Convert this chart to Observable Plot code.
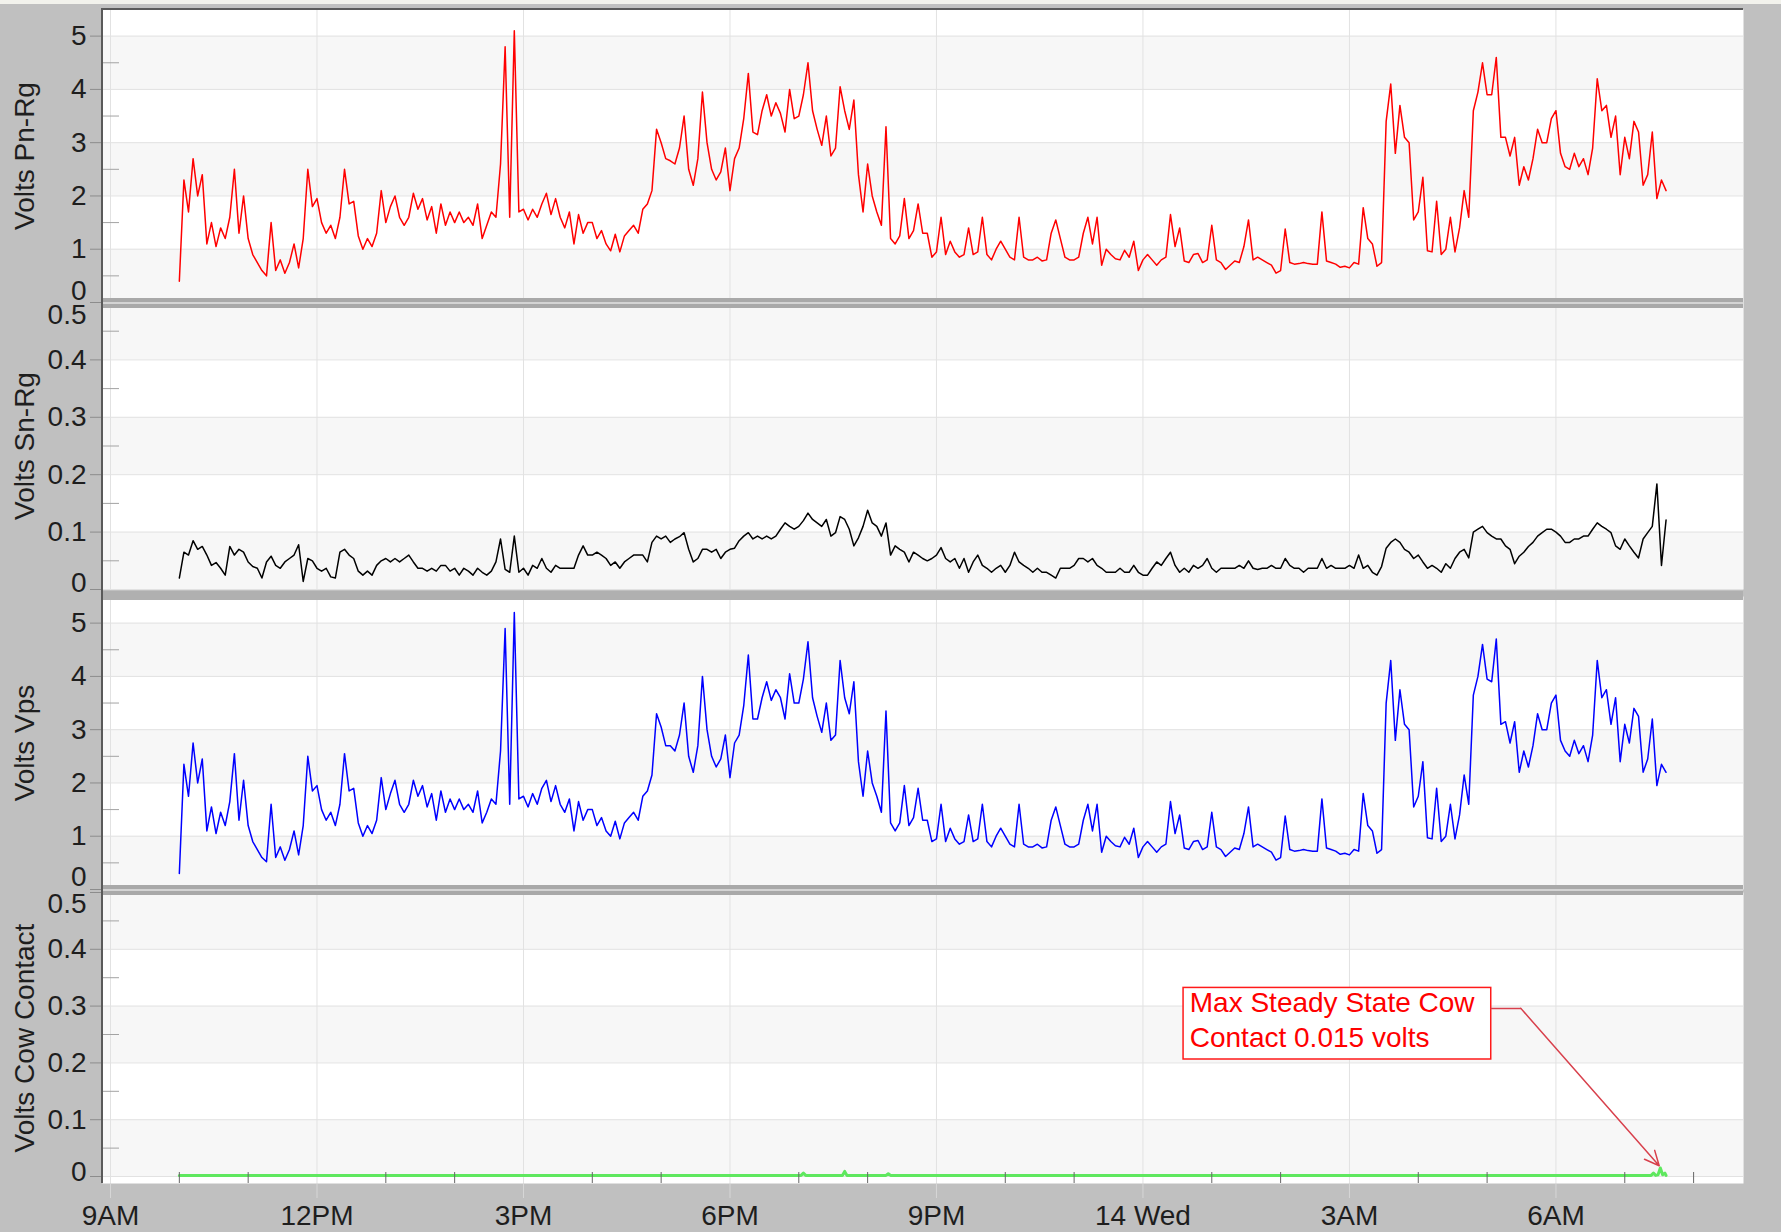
<!DOCTYPE html>
<html><head><meta charset="utf-8">
<script src="https://cdn.jsdelivr.net/npm/d3@7"></script>
<script src="https://cdn.jsdelivr.net/npm/@observablehq/plot@0.6"></script>
<style>
html,body{margin:0;padding:0;background:#c0c0c0;}
#chart{position:relative;width:1781px;height:1232px;background:#c0c0c0;overflow:hidden;}
#chart svg{position:absolute;left:0;overflow:visible;}
.deco{position:absolute;}
</style></head><body><div id="chart"></div>
<script>
// ---------------- DATA ----------------
// time axis: hours after 9 AM (Tue); samples every 4 minutes starting 10:00 AM
const startHour = 1;
const stepMinutes = 4;
const xTickHours = [0, 3, 6, 9, 12, 15, 18, 21];
const xTickLabels = ["9AM", "12PM", "3PM", "6PM", "9PM", "14 Wed", "3AM", "6AM"];
const xMinorHours = [1, 2, 4, 5, 7, 8, 10, 11, 13, 14, 16, 17, 19, 20, 22, 23];

// Volts Pn-Rg (red)
const pnRg = [
  0.4, 2.3, 1.7, 2.7, 2.0, 2.4, 1.1, 1.5, 1.05, 1.4, 1.2, 1.6, 2.5, 1.3, 2.0,
  1.2, 0.9, 0.75, 0.6, 0.5, 1.5, 0.6, 0.8, 0.55, 0.75, 1.1, 0.65, 1.2, 2.5, 1.8,
  1.95, 1.5, 1.3, 1.45, 1.2, 1.6, 2.5, 1.85, 1.9, 1.25, 1.0, 1.2, 1.05, 1.3, 2.1,
  1.5, 1.8, 2.0, 1.6, 1.45, 1.6, 2.05, 1.75, 1.95, 1.55, 1.8, 1.3, 1.85, 1.45, 1.7,
  1.5, 1.7, 1.5, 1.6, 1.45, 1.85, 1.2, 1.45, 1.7, 1.6, 2.6, 4.8, 1.6, 5.1, 1.7,
  1.75, 1.55, 1.75, 1.6, 1.85, 2.05, 1.65, 1.95, 1.6, 1.4, 1.7, 1.1, 1.65, 1.3, 1.5,
  1.5, 1.2, 1.35, 1.1, 0.97, 1.28, 0.95, 1.25, 1.35, 1.45, 1.3, 1.75, 1.85, 2.1, 3.25,
  3.0, 2.7, 2.66, 2.6, 2.9, 3.5, 2.5, 2.2, 2.7, 3.95, 3.0, 2.5, 2.3, 2.45, 2.9,
  2.1, 2.7, 2.9, 3.45, 4.3, 3.2, 3.15, 3.6, 3.9, 3.5, 3.75, 3.55, 3.2, 4.0, 3.45,
  3.5, 3.9, 4.5, 3.6, 3.25, 2.95, 3.5, 2.75, 2.9, 4.05, 3.6, 3.25, 3.8, 2.4, 1.7,
  2.6, 2.0, 1.7, 1.45, 3.3, 1.2, 1.1, 1.25, 1.95, 1.2, 1.35, 1.85, 1.3, 1.3, 0.85,
  0.95, 1.6, 0.9, 1.15, 0.95, 0.85, 0.9, 1.4, 0.9, 0.95, 1.6, 0.9, 0.8, 1.0, 1.15,
  1.0, 0.85, 0.8, 1.6, 0.85, 0.8, 0.8, 0.85, 0.78, 0.8, 1.3, 1.55, 1.2, 0.85, 0.8,
  0.8, 0.85, 1.3, 1.6, 1.1, 1.6, 0.7, 1.0, 0.9, 0.82, 0.8, 0.98, 0.85, 1.15, 0.6,
  0.8, 0.9, 0.8, 0.7, 0.8, 0.85, 1.65, 1.05, 1.4, 0.78, 0.75, 0.9, 0.92, 0.75, 0.8,
  1.45, 0.8, 0.75, 0.62, 0.7, 0.78, 0.75, 1.05, 1.55, 0.8, 0.85, 0.8, 0.75, 0.7, 0.55,
  0.6, 1.38, 0.75, 0.72, 0.73, 0.75, 0.73, 0.72, 0.72, 1.7, 0.78, 0.75, 0.72, 0.66, 0.68,
  0.65, 0.75, 0.72, 1.78, 1.2, 1.1, 0.68, 0.75, 3.4, 4.1, 2.8, 3.7, 3.1, 3.0, 1.55,
  1.7, 2.35, 0.97, 0.95, 1.9, 0.9, 1.0, 1.6, 0.95, 1.4, 2.1, 1.6, 3.6, 3.95, 4.5,
  3.9, 3.9, 4.6, 3.1, 3.1, 2.75, 3.1, 2.2, 2.55, 2.3, 2.7, 3.25, 3.0, 3.0, 3.45,
  3.6, 2.8, 2.55, 2.5, 2.8, 2.55, 2.7, 2.4, 2.9, 4.2, 3.6, 3.7, 3.1, 3.5, 2.4,
  3.1, 2.7, 3.4, 3.2, 2.2, 2.4, 3.2, 1.95, 2.3, 2.1
];

// Volts Sn-Rg (black)
const snRg = [
  0.02, 0.065, 0.06, 0.085, 0.07, 0.075, 0.06, 0.042, 0.047, 0.037, 0.025, 0.075, 0.06, 0.07, 0.065,
  0.048, 0.04, 0.037, 0.02, 0.048, 0.058, 0.042, 0.037, 0.048, 0.054, 0.06, 0.078, 0.014, 0.054, 0.05,
  0.037, 0.032, 0.037, 0.022, 0.02, 0.065, 0.07, 0.06, 0.054, 0.032, 0.025, 0.032, 0.025, 0.042, 0.05,
  0.054, 0.048, 0.054, 0.048, 0.054, 0.06, 0.048, 0.037, 0.037, 0.032, 0.037, 0.032, 0.042, 0.042, 0.032,
  0.037, 0.025, 0.037, 0.032, 0.025, 0.037, 0.03, 0.025, 0.032, 0.048, 0.088, 0.035, 0.03, 0.093, 0.03,
  0.037, 0.025, 0.042, 0.037, 0.054, 0.037, 0.03, 0.042, 0.037, 0.037, 0.037, 0.037, 0.06, 0.076, 0.06,
  0.06, 0.065, 0.06, 0.054, 0.042, 0.048, 0.037, 0.048, 0.054, 0.06, 0.06, 0.06, 0.048, 0.082, 0.093,
  0.088, 0.093, 0.082, 0.088, 0.092, 0.099, 0.07, 0.048, 0.054, 0.07, 0.07, 0.065, 0.07, 0.054, 0.065,
  0.07, 0.072, 0.085, 0.093, 0.099, 0.088, 0.093, 0.088, 0.093, 0.088, 0.093, 0.105, 0.116, 0.11, 0.105,
  0.11, 0.12, 0.133, 0.122, 0.116, 0.11, 0.122, 0.093, 0.099, 0.127, 0.122, 0.105, 0.076, 0.09, 0.11,
  0.138, 0.116, 0.11, 0.093, 0.116, 0.06, 0.076, 0.07, 0.065, 0.048, 0.065, 0.06, 0.054, 0.05, 0.054,
  0.06, 0.073, 0.054, 0.048, 0.054, 0.037, 0.054, 0.03, 0.048, 0.06, 0.042, 0.037, 0.03, 0.037, 0.042,
  0.03, 0.042, 0.065, 0.048, 0.042, 0.037, 0.03, 0.037, 0.03, 0.03, 0.025, 0.02, 0.037, 0.037, 0.037,
  0.042, 0.054, 0.054, 0.048, 0.054, 0.042, 0.037, 0.03, 0.03, 0.03, 0.037, 0.03, 0.03, 0.042, 0.03,
  0.025, 0.025, 0.037, 0.048, 0.042, 0.054, 0.065, 0.042, 0.03, 0.037, 0.03, 0.042, 0.037, 0.042, 0.054,
  0.037, 0.03, 0.037, 0.037, 0.037, 0.037, 0.042, 0.037, 0.05, 0.037, 0.035, 0.037, 0.037, 0.042, 0.037,
  0.037, 0.054, 0.042, 0.037, 0.037, 0.03, 0.037, 0.037, 0.037, 0.054, 0.037, 0.042, 0.037, 0.037, 0.037,
  0.042, 0.037, 0.06, 0.037, 0.042, 0.03, 0.025, 0.04, 0.072, 0.082, 0.088, 0.082, 0.07, 0.065, 0.054,
  0.06, 0.048, 0.037, 0.042, 0.037, 0.03, 0.045, 0.037, 0.054, 0.065, 0.07, 0.055, 0.1, 0.105, 0.11,
  0.099, 0.093, 0.088, 0.088, 0.076, 0.07, 0.045, 0.058, 0.065, 0.075, 0.082, 0.093, 0.099, 0.105, 0.105,
  0.1, 0.093, 0.082, 0.082, 0.088, 0.088, 0.093, 0.093, 0.105, 0.116, 0.11, 0.105, 0.099, 0.076, 0.07,
  0.088, 0.076, 0.065, 0.055, 0.088, 0.099, 0.11, 0.184, 0.042, 0.121
];

// Volts Vps (blue)
const vps = [
  0.3, 2.35, 1.75, 2.75, 2.0, 2.45, 1.1, 1.55, 1.05, 1.45, 1.2, 1.65, 2.55, 1.3, 2.05,
  1.2, 0.9, 0.75, 0.6, 0.52, 1.6, 0.6, 0.8, 0.55, 0.75, 1.1, 0.65, 1.2, 2.5, 1.85,
  1.95, 1.5, 1.3, 1.45, 1.2, 1.6, 2.55, 1.85, 1.9, 1.25, 1.0, 1.2, 1.05, 1.3, 2.1,
  1.5, 1.8, 2.05, 1.6, 1.45, 1.6, 2.05, 1.75, 1.95, 1.55, 1.8, 1.3, 1.85, 1.45, 1.7,
  1.5, 1.7, 1.5, 1.6, 1.45, 1.85, 1.25, 1.45, 1.7, 1.6, 2.6, 4.9, 1.6, 5.2, 1.7,
  1.75, 1.55, 1.8, 1.6, 1.9, 2.05, 1.65, 1.95, 1.6, 1.45, 1.7, 1.1, 1.65, 1.3, 1.5,
  1.5, 1.2, 1.35, 1.1, 1.0, 1.28, 0.95, 1.25, 1.35, 1.45, 1.3, 1.75, 1.85, 2.15, 3.3,
  3.05, 2.7, 2.7, 2.6, 2.9, 3.5, 2.5, 2.2, 2.7, 4.0, 3.0, 2.5, 2.3, 2.45, 2.9,
  2.1, 2.75, 2.9, 3.45, 4.4, 3.2, 3.2, 3.6, 3.9, 3.55, 3.75, 3.6, 3.2, 4.05, 3.5,
  3.5, 3.95, 4.65, 3.6, 3.25, 2.95, 3.5, 2.8, 2.9, 4.3, 3.6, 3.3, 3.9, 2.4, 1.75,
  2.6, 2.0, 1.75, 1.45, 3.35, 1.25, 1.1, 1.25, 1.95, 1.2, 1.35, 1.9, 1.3, 1.3, 0.9,
  0.95, 1.6, 0.9, 1.15, 0.95, 0.85, 0.9, 1.4, 0.9, 0.95, 1.6, 0.9, 0.8, 1.0, 1.15,
  1.0, 0.85, 0.8, 1.6, 0.85, 0.8, 0.8, 0.85, 0.78, 0.8, 1.3, 1.55, 1.2, 0.85, 0.8,
  0.8, 0.85, 1.3, 1.6, 1.1, 1.6, 0.7, 1.0, 0.9, 0.82, 0.8, 0.98, 0.85, 1.15, 0.6,
  0.8, 0.9, 0.8, 0.7, 0.8, 0.85, 1.65, 1.05, 1.4, 0.78, 0.75, 0.9, 0.92, 0.75, 0.8,
  1.45, 0.8, 0.75, 0.62, 0.7, 0.78, 0.75, 1.05, 1.55, 0.8, 0.85, 0.8, 0.75, 0.7, 0.55,
  0.6, 1.38, 0.75, 0.72, 0.73, 0.75, 0.73, 0.72, 0.72, 1.7, 0.78, 0.75, 0.72, 0.66, 0.68,
  0.65, 0.75, 0.72, 1.8, 1.2, 1.1, 0.68, 0.75, 3.5, 4.3, 2.8, 3.75, 3.1, 3.0, 1.55,
  1.75, 2.4, 0.97, 0.95, 1.9, 0.9, 1.0, 1.6, 0.95, 1.4, 2.15, 1.6, 3.65, 4.0, 4.6,
  3.95, 3.9, 4.7, 3.1, 3.15, 2.75, 3.15, 2.2, 2.6, 2.3, 2.7, 3.3, 3.0, 3.0, 3.5,
  3.65, 2.8, 2.6, 2.5, 2.8, 2.55, 2.7, 2.4, 2.9, 4.3, 3.6, 3.75, 3.1, 3.6, 2.4,
  3.1, 2.75, 3.4, 3.25, 2.2, 2.45, 3.2, 1.95, 2.35, 2.2
];

// Volts Cow Contact (green): minutes after 9 AM and values
const cowMinutes = [60, 602, 604, 606, 638, 640, 642, 676, 678, 680, 1343, 1345, 1347, 1349, 1351, 1353, 1355, 1356];
const cowVolts   = [0.002, 0.002, 0.006, 0.002, 0.002, 0.009, 0.002, 0.002, 0.005, 0.002, 0.002, 0.006, 0.002, 0.003, 0.015, 0.003, 0.006, 0.002];

const annotationLines = ["Max Steady State Cow", "Contact 0.015 volts"];

// ---------------- RENDER ----------------
const W = 1781, ML = 102, MR = 38;
const xDomain = [-0.1162, 23.725];
const FONT = '"Liberation Sans", Arial, Helvetica, sans-serif';
const TXT = "#1e1e1e";
const FS = 28;
const tx = (d, i) => startHour + i * stepMinutes / 60;

function panel(cfg) {
  const marks = [
    Plot.frame({fill: "white", stroke: "none"}),
    Plot.rect(cfg.bands, {y1: d => d[0], y2: d => d[1], fill: "#f7f7f7"}),
    Plot.gridY(cfg.major, {stroke: "#e2e2e2", strokeOpacity: 1}),
    Plot.gridX(xTickHours, {stroke: "#e2e2e2", strokeOpacity: 1}),
    Plot.axisY(cfg.minor, {tickSize: 16, dx: 17, stroke: "#a3a3a3", tickFormat: () => "", label: null}),
    Plot.axisY(cfg.major, {tickSize: 12, stroke: "#8c8c8c", tickFormat: () => "", label: null}),
    Plot.axisY(cfg.major.filter(v => !(v in cfg.edge)), {tickSize: 0, tickPadding: 16, fill: TXT, fontSize: FS, fontFamily: FONT, tickFormat: cfg.fmt, label: null}),
    ...Object.entries(cfg.edge).map(([v, dy]) =>
      Plot.axisY([+v], {tickSize: 0, tickPadding: 16, dy, fill: TXT, fontSize: FS, fontFamily: FONT, tickFormat: cfg.fmt, label: null})),
    Plot.text([cfg.label], {frameAnchor: "left", dx: -77, rotate: -90, textAnchor: "middle", lineAnchor: "middle",
      fontSize: FS, fontFamily: FONT, fill: TXT, text: d => d}),
    ...cfg.series
  ];
  const svg = Plot.plot({
    width: W, height: cfg.height,
    marginLeft: ML, marginRight: MR, marginTop: cfg.mt, marginBottom: cfg.mb,
    style: {background: "transparent", fontFamily: FONT, fontSize: FS + "px", color: TXT, overflow: "visible"},
    x: {type: "linear", domain: xDomain, axis: null},
    y: {type: "linear", domain: cfg.yDomain, axis: null},
    marks
  });
  svg.style.top = cfg.top + "px";
  return svg;
}

const chart = document.getElementById("chart");
const bigBands = [[0, 1], [2, 3], [4, 5]];
const smallBands = [[0, 0.1], [0.2, 0.3], [0.4, 0.5]];
const bigMajor = [0, 1, 2, 3, 4, 5];
const bigMinor = [0.5, 1.5, 2.5, 3.5, 4.5];
const smallMajor = [0, 0.1, 0.2, 0.3, 0.4, 0.5];
const smallMinor = [0.05, 0.15, 0.25, 0.35, 0.45];
const fmtInt = d => d3.format("d")(d);
const fmtDec = d => d === 0 ? "0" : d3.format(".1f")(d);

chart.appendChild(panel({
  top: 0, height: 302, mt: 9, mb: 0, yDomain: [0, 5.5],
  bands: bigBands, major: bigMajor, minor: bigMinor, fmt: fmtInt, edge: {0: -11},
  label: "Volts Pn-Rg",
  series: [Plot.line(pnRg, {x: tx, y: d => d, stroke: "#ff0000", strokeWidth: 1.5})]
}));

chart.appendChild(panel({
  top: 302, height: 290, mt: 0, mb: 3, yDomain: [0, 0.5],
  bands: smallBands, major: smallMajor, minor: smallMinor, fmt: fmtDec, edge: {0: -6, 0.5: 13},
  label: "Volts Sn-Rg",
  series: [Plot.line(snRg, {x: tx, y: d => d, stroke: "#000000", strokeWidth: 1.5})]
}));

chart.appendChild(panel({
  top: 592, height: 297, mt: 4, mb: 0, yDomain: [0, 5.5],
  bands: bigBands, major: bigMajor, minor: bigMinor, fmt: fmtInt, edge: {0: -12},
  label: "Volts Vps",
  series: [Plot.line(vps, {x: tx, y: d => d, stroke: "#0000ff", strokeWidth: 1.5})]
}));

// annotation in data coordinates of the cow-contact panel (hours, volts)
const box = {x1: 15.59, x2: 20.06, y1: 0.206, y2: 0.332};
const textX = 15.68, textY = [0.3046, 0.243];
const leader = [[20.06, 0.296], [20.49, 0.296]];
const arrowSeg = {x1: 20.49, y1: 0.296, x2: 22.5, y2: 0.019};

chart.appendChild(panel({
  top: 885, height: 347, mt: 7, mb: 49, yDomain: [-0.0123, 0.5],
  bands: smallBands, major: smallMajor, minor: smallMinor, fmt: fmtDec, edge: {0: -4, 0.5: 12},
  label: "Volts Cow Contact",
  series: [
    Plot.line(cowMinutes, {x: m => m / 60, y: (d, i) => cowVolts[i], stroke: "#5fe85f", strokeWidth: 3}),
    Plot.axisX(xMinorHours, {tickSize: 11, dy: -11, stroke: "#666", tickFormat: () => "", label: null}),
    Plot.axisX(xTickHours, {tickSize: 15, tickPadding: 7, stroke: "#d6d6d6", fill: TXT, fontSize: FS, fontFamily: FONT,
      tickFormat: d => xTickLabels[xTickHours.indexOf(d)], label: null}),
    Plot.rect([box], {x1: "x1", x2: "x2", y1: "y1", y2: "y2", fill: "white", stroke: "#ff1a1a", strokeWidth: 1.5}),
    Plot.text(annotationLines, {x: () => textX, y: (d, i) => textY[i], text: d => d, textAnchor: "start",
      fill: "#ff0000", fontSize: FS, fontFamily: FONT}),
    Plot.line(leader, {x: d => d[0], y: d => d[1], stroke: "#d8404c", strokeWidth: 1.5}),
    Plot.arrow([arrowSeg], {x1: "x1", y1: "y1", x2: "x2", y2: "y2", stroke: "#d8404c", strokeWidth: 1.5, headLength: 16, headAngle: 50})
  ]
}));

// panel separators and frame decoration
function deco(left, top, width, height, color) {
  const d = document.createElement("div");
  d.className = "deco";
  Object.assign(d.style, {left: left + "px", top: top + "px", width: width + "px", height: height + "px", background: color});
  chart.appendChild(d);
}
deco(0, 0, 1781, 4, "#f2f2ec");
// separator 1 (double)
deco(101, 298, 1642, 10, "#a9a9a9"); deco(101, 302, 1642, 2, "#d4d4d4");
// separator 2 (solid)
deco(101, 591, 1642, 9, "#b0b0b0");
// separator 3 (double)
deco(101, 885, 1642, 10, "#a9a9a9"); deco(101, 889, 1642, 2, "#d4d4d4");
// dark left and top border
deco(101, 8, 2, 1175, "#5a5a5a");
deco(101, 8, 1642, 2, "#5a5a5a");
</script></body></html>
